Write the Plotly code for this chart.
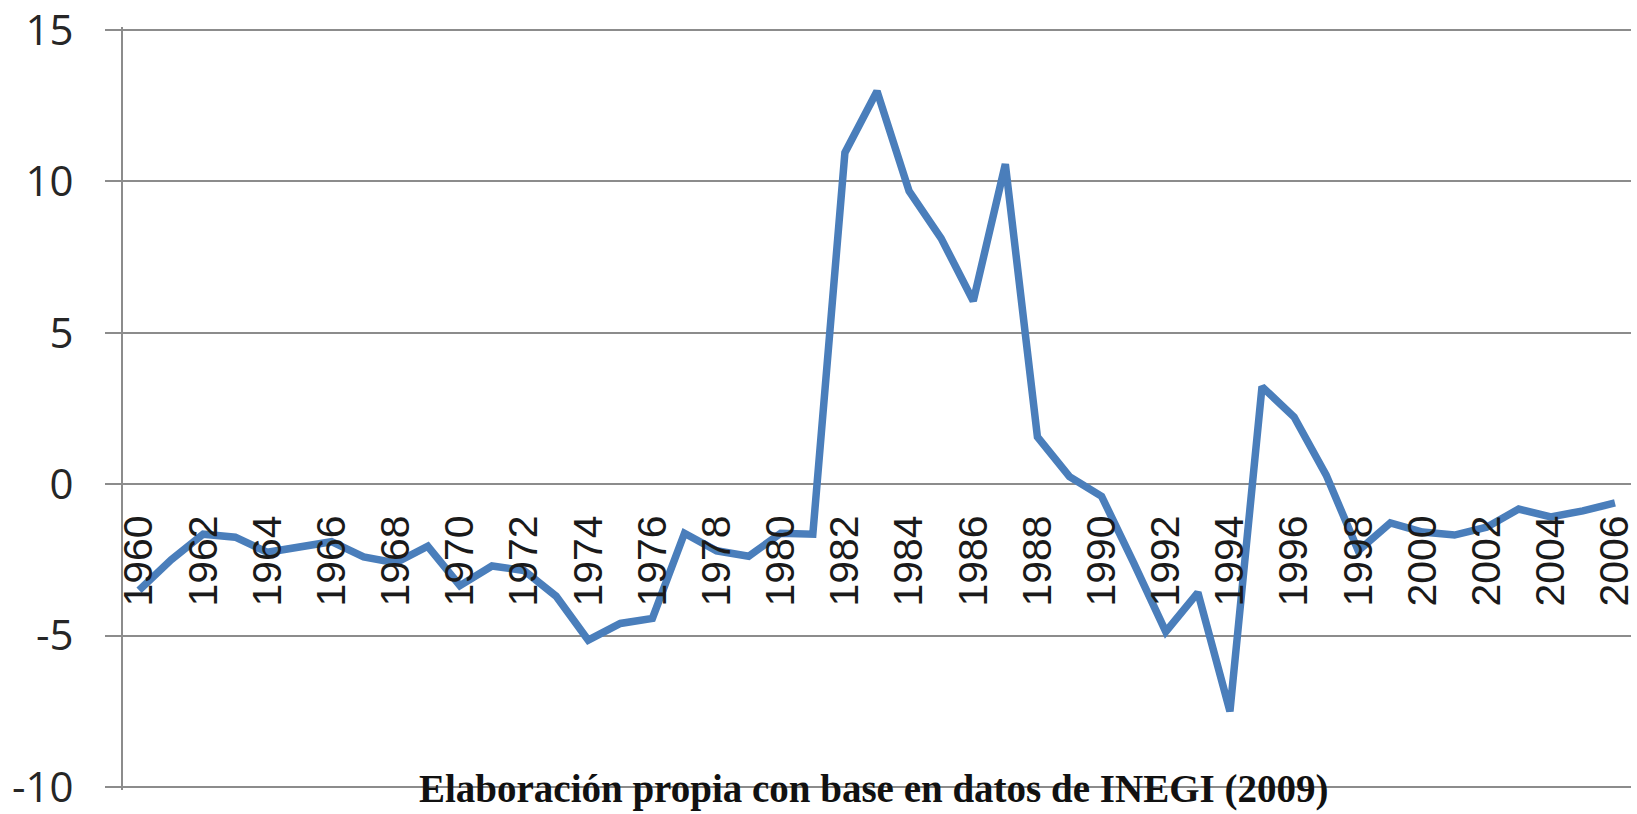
import plotly.graph_objects as go

years = list(range(1960, 2007))
values = [-3.5, -2.5, -1.65, -1.75, -2.25, -2.05, -1.9, -2.4, -2.6, -2.05,
          -3.35, -2.7, -2.85, -3.7, -5.15, -4.6, -4.43, -1.62, -2.2, -2.38,
          -1.62, -1.65, 10.95, 12.98, 9.68, 8.12, 6.05, 10.57, 1.56, 0.25,
          -0.4, -2.6, -4.87, -3.58, -7.5, 3.22, 2.22, 0.3, -2.2, -1.28,
          -1.58, -1.68, -1.42, -0.82, -1.08, -0.88, -0.62]
x_ticks = list(range(1960, 2007, 2))
y_ticks = [-10, -5, 0, 5, 10, 15]
y_labels = ["-10", "-5", "0", "5", "10", "15"]
note = "Elaboración propia con base en datos de INEGI (2009)"

y_lo, y_hi = -10.1, 15.1

fig = go.Figure()
fig.add_trace(go.Scatter(x=years, y=values, mode="lines",
                         line=dict(color="#4A7EBB", width=7.5), showlegend=False))

fig.update_layout(
    width=1637, height=814,
    margin=dict(l=123, r=0, t=25, b=14),
    paper_bgcolor="white", plot_bgcolor="white",
    xaxis=dict(range=[1959.5, 2006.5], tickvals=x_ticks,
               ticktext=[str(t) for t in x_ticks],
               tickangle=-90, anchor="free", position=(0 - y_lo) / (y_hi - y_lo),
               showgrid=False, zeroline=False, showline=False, ticks="",
               ticklabelstandoff=22, ticklabeloverflow="allow",
               tickfont=dict(family="Liberation Sans", size=41, color="#1a1a1a")),
    yaxis=dict(range=[y_lo, y_hi], tickvals=y_ticks, ticktext=y_labels,
               showgrid=True, gridcolor="#8c8c8c", gridwidth=2,
               zeroline=False, showline=True, linecolor="#8c8c8c", linewidth=2,
               ticks="outside", ticklen=16, tickcolor="#8c8c8c", tickwidth=2,
               ticklabelstandoff=23, ticklabeloverflow="allow",
               tickfont=dict(family="Open Sans", size=42, color="#262626")),
    annotations=[dict(text="<b>" + note + "</b>", x=0.498, y=0.0015,
                      xref="paper", yref="paper", xanchor="center", yanchor="middle",
                      showarrow=False,
                      font=dict(family="Liberation Serif", size=39, color="#111111"))],
)

fig.write_html("out.html", config={"displayModeBar": False},
               post_script="document.body.style.margin='0';document.body.style.overflow='hidden';")
